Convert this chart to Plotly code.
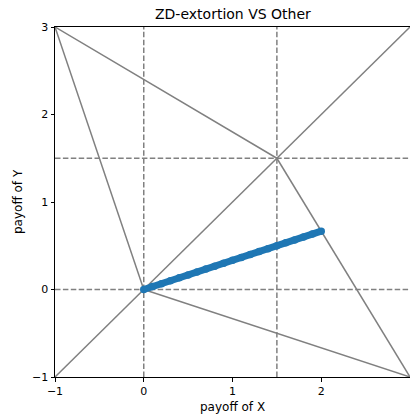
import plotly.graph_objects as go

# Prisoner's dilemma payoffs
R, S, T, P = 1.5, -1.0, 3.0, 0.0

# Region edges (pairs of payoff points)
edge_x = [[S, P], [S, R], [-1.0, 3.0], [R, T], [P, T]]
edge_y = [[T, P], [T, R], [-1.0, 3.0], [R, S], [P, S]]

# Reference dashed lines
vlines = [0.0, 1.5]
hlines = [0.0, 1.5]

# ZD-extortion outcomes
zd_x = [0, 0.1, 0.2, 0.3, 0.4, 0.5, 0.6, 0.7, 0.8, 0.9, 1.0,
        1.1, 1.2, 1.3, 1.4, 1.5, 1.6, 1.7, 1.8, 1.9, 2.0]
zd_y = [0, 0.033, 0.067, 0.1, 0.133, 0.167, 0.2, 0.233, 0.267, 0.3, 0.333,
        0.367, 0.4, 0.433, 0.467, 0.5, 0.533, 0.567, 0.6, 0.633, 0.667]

x_ticks = [-1, 0, 1, 2]
y_ticks = [-1, 0, 1, 2, 3]

fig = go.Figure()
GRAY = "#808080"
for v in vlines:
    fig.add_trace(go.Scatter(x=[v, v], y=[-1, 3], mode="lines",
                             line=dict(color=GRAY, width=1.5, dash="5.5px,2.4px"),
                             hoverinfo="skip", showlegend=False))
for h in hlines:
    fig.add_trace(go.Scatter(x=[-1, 3], y=[h, h], mode="lines",
                             line=dict(color=GRAY, width=1.5, dash="5.5px,2.4px"),
                             hoverinfo="skip", showlegend=False))
for ex, ey in zip(edge_x, edge_y):
    fig.add_trace(go.Scatter(x=ex, y=ey, mode="lines",
                             line=dict(color=GRAY, width=1.5),
                             hoverinfo="skip", showlegend=False))
fig.add_trace(go.Scatter(x=zd_x, y=zd_y, mode="lines+markers",
                         line=dict(color="#1f77b4", width=7),
                         marker=dict(color="#1f77b4", size=7.5, line=dict(width=0)),
                         showlegend=False))

fig.update_layout(
    width=410, height=415,
    margin=dict(l=55, r=0, t=27, b=38),
    plot_bgcolor="white", paper_bgcolor="white",
    font=dict(family="DejaVu Sans", size=11, color="black"),
    showlegend=False,
)
fig.update_xaxes(range=[-1, 3], tickvals=x_ticks, ticktext=["\u22121", "0", "1", "2"],
                 showgrid=False, zeroline=False, showline=True, linecolor="black",
                 linewidth=1, mirror=True, ticks="outside", ticklen=3.5, tickcolor="black",
                 tickfont=dict(size=11, color="black"))
fig.update_yaxes(range=[-1, 3], tickvals=y_ticks, ticktext=["\u22121", "0", "1", "2", "3"],
                 showgrid=False, zeroline=False, showline=True, linecolor="black",
                 linewidth=1, mirror=False, ticks="outside", ticklen=3.5, tickcolor="black",
                 tickfont=dict(size=11, color="black"))

fig.add_annotation(text="ZD-extortion VS Other", xref="paper", yref="paper",
                   x=0.5, y=1, yshift=13, yanchor="middle", showarrow=False,
                   font=dict(size=14, color="black"))
fig.add_annotation(text="payoff of X", xref="paper", yref="paper",
                   x=0.5, y=0, yshift=-30, yanchor="middle", showarrow=False,
                   font=dict(size=12, color="black"))
fig.add_annotation(text="payoff of Y", xref="paper", yref="paper",
                   x=0, xshift=-37, xanchor="center", y=0.5, yanchor="middle",
                   textangle=-90, showarrow=False,
                   font=dict(size=12, color="black"))

fig.write_html("out.html", config={"displayModeBar": False},
               post_script="document.body.style.margin='0px';document.body.style.overflow='hidden';")
